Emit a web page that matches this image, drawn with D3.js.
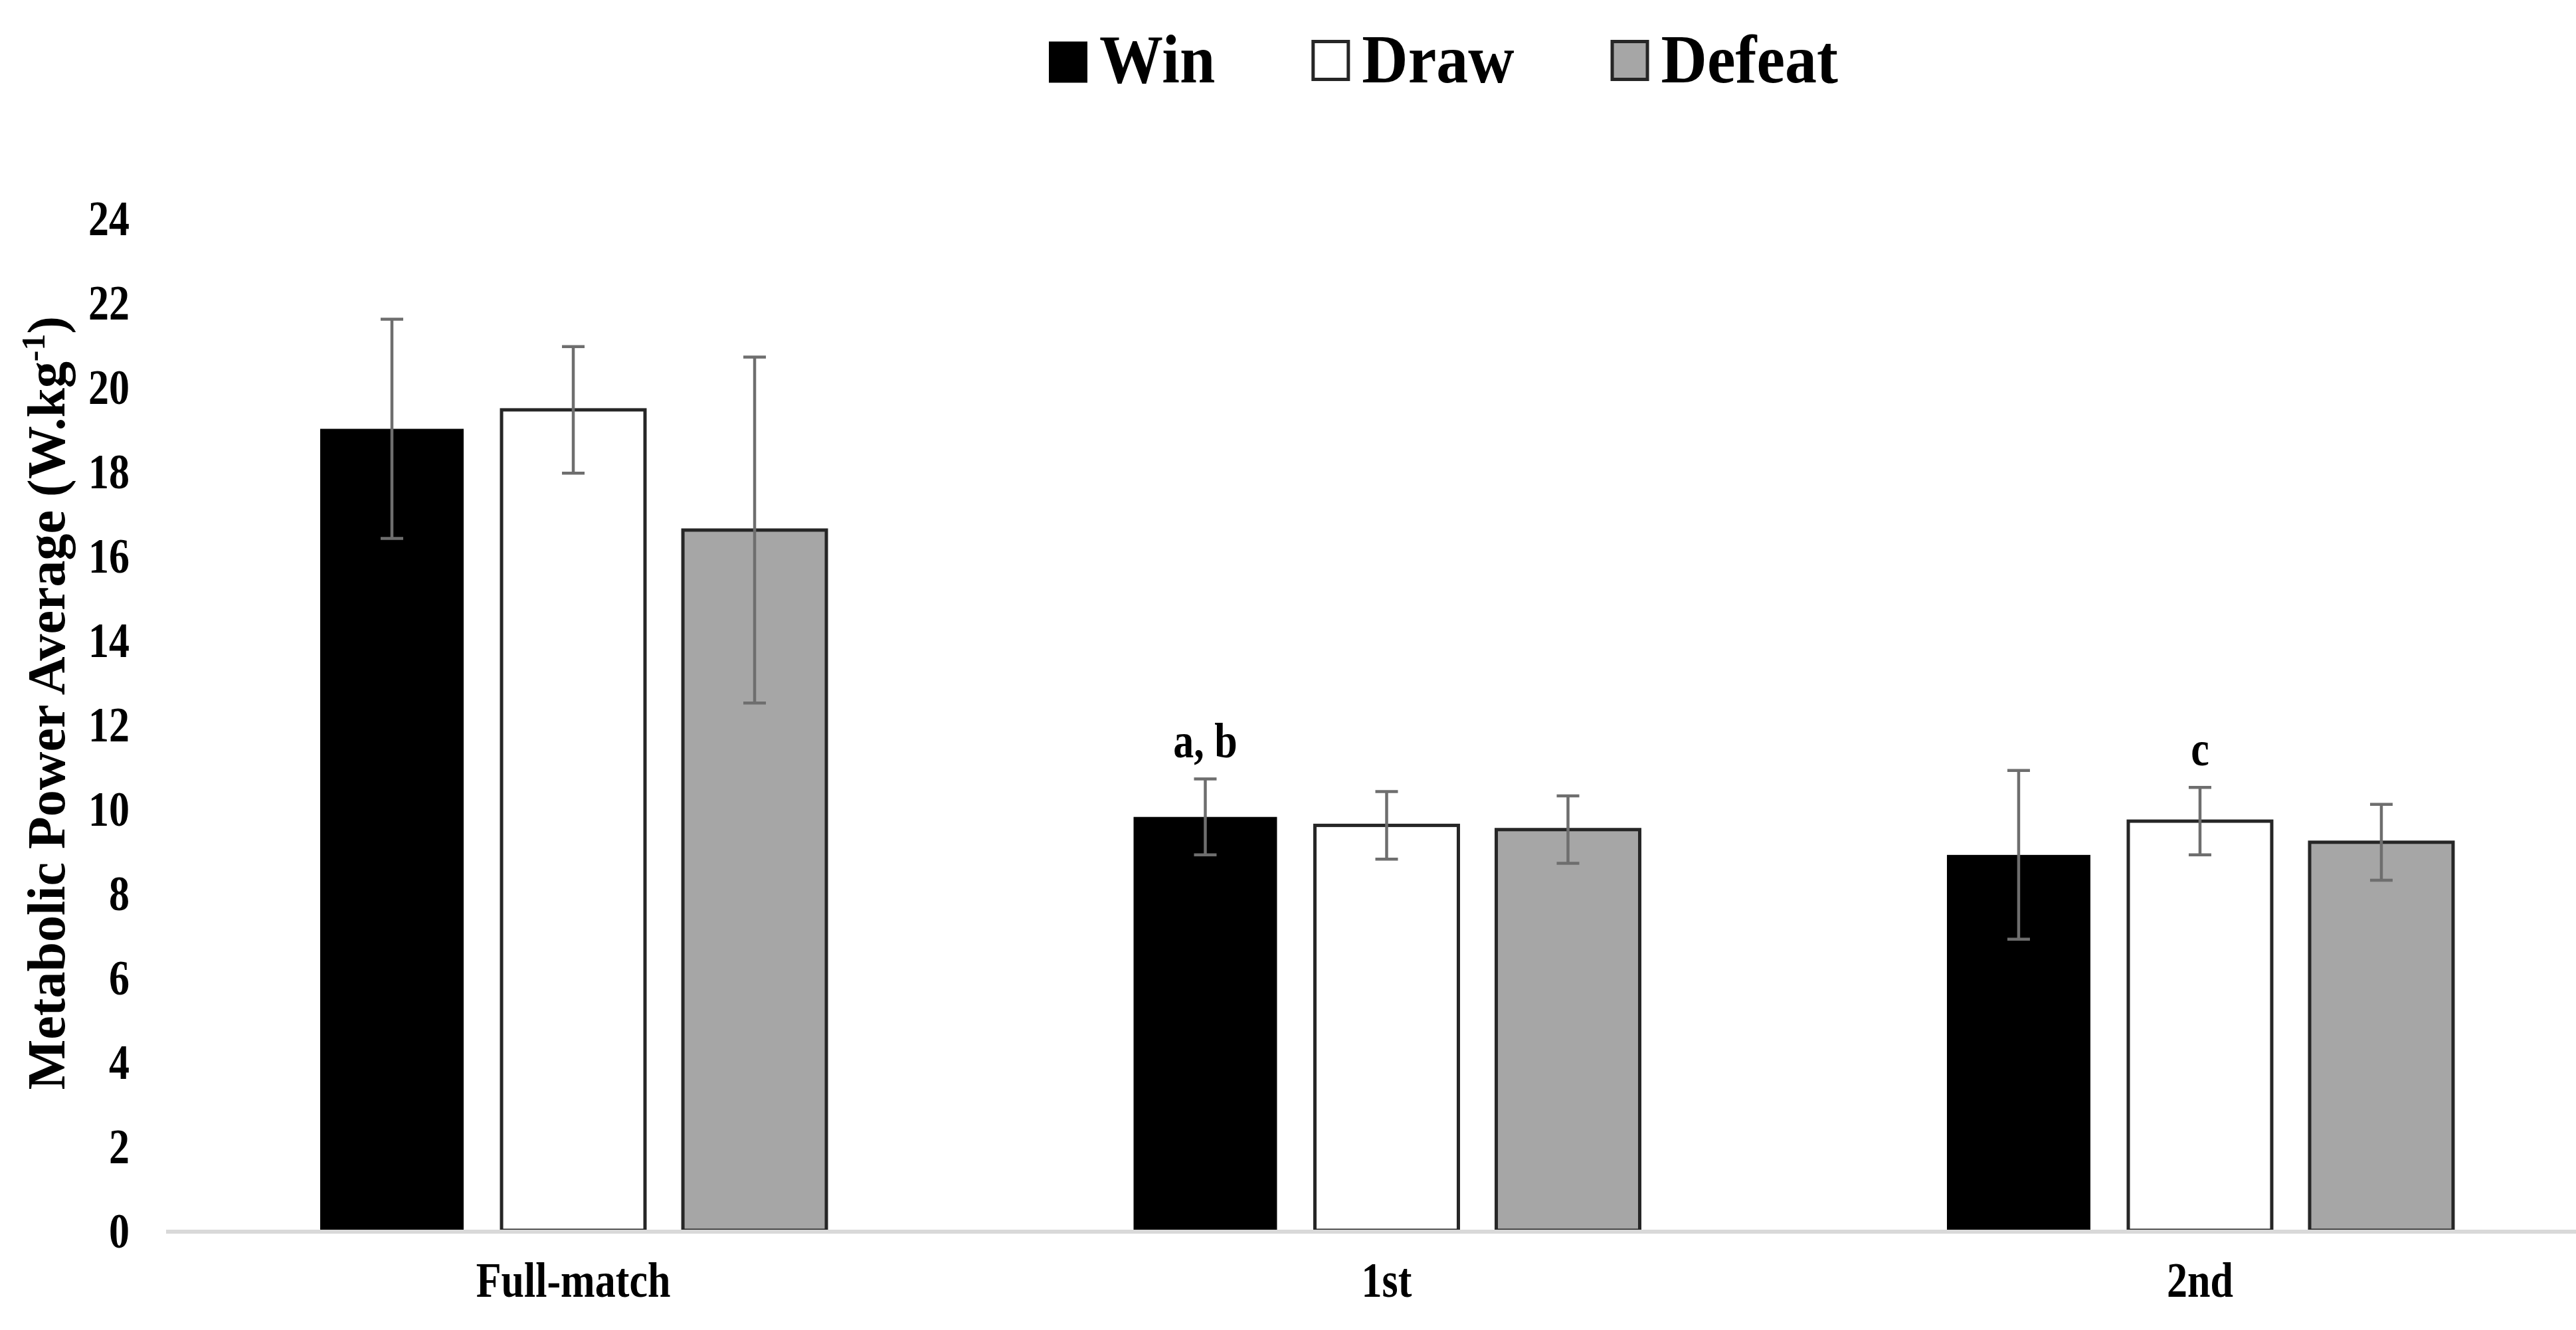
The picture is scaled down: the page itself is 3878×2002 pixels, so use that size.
<!DOCTYPE html>
<html>
<head>
<meta charset="utf-8">
<script src="https://d3js.org/d3.v7.min.js"></script>
<style>
  body { margin: 0; background: #fff; }
  text { font-family: "Liberation Serif", "Times New Roman", serif; font-weight: bold; fill: #000; }
</style>
</head>
<body>
<svg id="chart" width="3878" height="2002"></svg>
<script>
// data
var categories = ["Full-match", "1st", "2nd"];
var series = ["Win", "Draw", "Defeat"];
var winMean = [19.0, 9.8, 8.9];
var drawMean = [19.45, 9.6, 9.7];
var defeatMean = [16.6, 9.5, 9.2];
var winSd = [2.6, 0.9, 2.0];
var drawSd = [1.5, 0.8, 0.8];
var defeatSd = [4.1, 0.8, 0.9];
var yTicks = [0, 2, 4, 6, 8, 10, 12, 14, 16, 18, 20, 22, 24];
var notes = [
  { cat: "1st", ser: "Win", label: "a, b" },
  { cat: "2nd", ser: "Draw", label: "c" }
];

var fills = { Win: "#000000", Draw: "#ffffff", Defeat: "#a6a6a6" };
var strokes = { Win: "#000000", Draw: "#262626", Defeat: "#262626" };
var means = { Win: winMean, Draw: drawMean, Defeat: defeatMean };
var sds = { Win: winSd, Draw: drawSd, Defeat: defeatSd };

var rows = [];
categories.forEach(function(c, i) {
  series.forEach(function(s) {
    rows.push({ cat: c, ser: s, mean: means[s][i], sd: sds[s][i] });
  });
});

var svg = d3.select("#chart");

var x0 = d3.scaleBand().domain(categories).range([250, 3925])
  .paddingInner(0.3777).paddingOuter(0.1895);
var x1 = d3.scaleBand().domain(series).range([0, x0.bandwidth()])
  .paddingInner(0.209).paddingOuter(0);
var y = d3.scaleLinear().domain([0, 24]).range([1852, 328]);

// bars
svg.append("g").selectAll("rect")
  .data(rows)
  .enter()
  .append("rect")
  .attr("x", function(d) { return x0(d.cat) + x1(d.ser); })
  .attr("y", function(d) { return y(d.mean); })
  .attr("width", x1.bandwidth())
  .attr("height", function(d) { return y(0) - y(d.mean); })
  .attr("fill", function(d) { return fills[d.ser]; })
  .attr("stroke", function(d) { return strokes[d.ser]; })
  .attr("stroke-width", function(d) { return d.ser == "Win" ? 0 : 5; });

// baseline
svg.append("line")
  .attr("x1", 250).attr("x2", 3878)
  .attr("y1", y(0) + 2).attr("y2", y(0) + 2)
  .attr("stroke", "#d9d9d9")
  .attr("stroke-width", 6);

// error bars
var capW = 17;
var err = svg.append("g")
  .attr("stroke", "#6e6e6e")
  .attr("stroke-width", 4.5);
rows.forEach(function(d) {
  var cx = x0(d.cat) + x1(d.ser) + x1.bandwidth() / 2;
  err.append("line")
    .attr("x1", cx).attr("x2", cx)
    .attr("y1", y(d.mean + d.sd)).attr("y2", y(d.mean - d.sd));
  err.append("line")
    .attr("x1", cx - capW).attr("x2", cx + capW)
    .attr("y1", y(d.mean + d.sd)).attr("y2", y(d.mean + d.sd));
  err.append("line")
    .attr("x1", cx - capW).attr("x2", cx + capW)
    .attr("y1", y(d.mean - d.sd)).attr("y2", y(d.mean - d.sd));
});

// significance letters
svg.append("g").selectAll("text")
  .data(notes)
  .enter()
  .append("text")
  .attr("text-anchor", "middle")
  .attr("font-size", "62px")
  .attr("transform", function(n) {
    var r = rows.filter(function(d) { return d.cat == n.cat && d.ser == n.ser; })[0];
    var cx = x0(n.cat) + x1(n.ser) + x1.bandwidth() / 2;
    return "translate(" + cx + "," + (y(r.mean + r.sd) - 33) + ") scale(1,1.2)";
  })
  .text(function(n) { return n.label; });

// y axis (labels only)
var yAxis = svg.append("g")
  .attr("transform", "translate(205,0)")
  .call(d3.axisLeft(y).tickValues(yTicks).tickSize(0).tickFormat(d3.format("d")));
yAxis.select(".domain").remove();
yAxis.selectAll("text")
  .attr("x", 0).attr("dy", 0)
  .attr("font-size", "62px")
  .attr("font-family", null)
  .attr("transform", "translate(-10,25) scale(1,1.2)");

// x axis (labels only)
var xAxis = svg.append("g")
  .attr("transform", "translate(0," + y(0) + ")")
  .call(d3.axisBottom(x0).tickSize(0));
xAxis.select(".domain").remove();
xAxis.selectAll("text")
  .attr("y", 0).attr("dy", 0)
  .attr("font-size", "62px")
  .attr("font-family", null)
  .attr("transform", "translate(0,100) scale(1,1.2)");
svg.selectAll(".tick text").attr("fill", "#000");

// y title
var yTitle = svg.append("text")
  .attr("transform", "translate(97,1058) rotate(-90)")
  .attr("text-anchor", "middle")
  .attr("font-size", "80px");
yTitle.append("tspan").text("Metabolic Power Average (W.kg");
yTitle.append("tspan").attr("font-size", "50px").attr("dy", -30).text("-1");
yTitle.append("tspan").attr("dy", 30).text(")");

// legend
var lx = 1579;
series.forEach(function(s) {
  var item = svg.append("g").attr("transform", "translate(" + lx + ",0)");
  item.append("rect")
    .attr("x", s == "Win" ? 0 : 2.5).attr("y", 62.5)
    .attr("width", s == "Win" ? 58 : 53).attr("height", s == "Win" ? 62 : 57)
    .attr("fill", fills[s])
    .attr("stroke", s == "Win" ? "none" : strokes[s])
    .attr("stroke-width", 5);
  var t = item.append("text")
    .attr("font-size", "96px")
    .attr("transform", "translate(76,124) scale(1,1.08)")
    .text(s);
  lx += 76 + t.node().getComputedTextLength() + 145;
});
</script>
</body>
</html>
